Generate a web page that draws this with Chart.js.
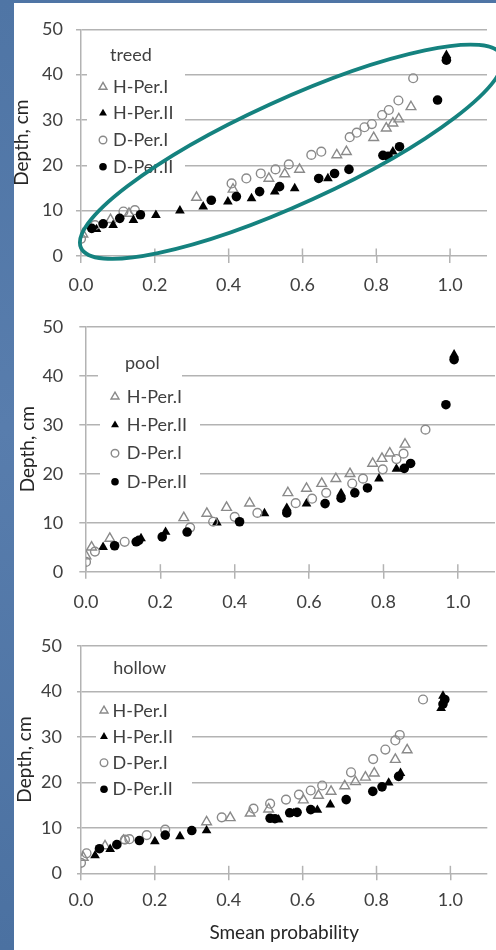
<!DOCTYPE html>
<html>
<head>
<meta charset="utf-8">
<title>Depth vs Smean probability</title>
<script src="https://cdn.jsdelivr.net/npm/chart.js@4.4.1/dist/chart.umd.min.js"></script>
<style>
  html, body { margin: 0; padding: 0; }
  body {
    width: 496px; height: 950px; overflow: hidden; position: relative;
    background: linear-gradient(180deg, #4f75a5 0%, #587dad 45%, #4b71a1 100%);
  }
  .sheet { position: absolute; left: 14px; top: 3px; right: 0; bottom: 0; background: #fff; }
  canvas { position: absolute; left: 0; }
</style>
</head>
<body>
<div class="sheet"></div>
<canvas id="chTreed" width="496" height="300" style="top:0"></canvas>
<canvas id="chPool" width="502" height="320" style="top:300px"></canvas>
<canvas id="chHollow" width="496" height="330" style="top:620px"></canvas>

<script>
/* =========================================================
   Depth vs Smean probability — treed / pool / hollow
   ========================================================= */

/* --- DATA: [Smean probability, depth cm] --- */

const seriesNames = ['H-Per.I', 'H-Per.II', 'D-Per.I', 'D-Per.II'];
const xTickValues = [0, 0.2, 0.4, 0.6, 0.8, 1.0];
const yTickValues = [0, 10, 20, 30, 40, 50];

const treedHPerI = [[0.005,4.8],[0.08,8.0],[0.13,9.4],[0.313,12.9],[0.412,14.7],[0.509,17.1],[0.552,18.1],[0.592,19.1],[0.693,22.3],[0.719,23.0],[0.793,26.1],[0.827,28.2],[0.845,29.3],[0.861,30.2],[0.894,32.9]];
const treedHPerII = [[0.042,5.9],[0.087,6.8],[0.142,7.9],[0.203,9.0],[0.268,10.0],[0.331,10.9],[0.398,12.0],[0.462,12.7],[0.525,14.2],[0.579,14.9],[0.669,17.1],[0.845,23.0],[0.99,44.3]];
const treedDPerI = [[0.0,3.8],[0.038,6.8],[0.115,9.8],[0.146,10.1],[0.408,16.0],[0.448,17.1],[0.487,18.2],[0.527,19.1],[0.563,20.2],[0.624,22.3],[0.651,23.0],[0.728,26.2],[0.747,27.2],[0.768,28.4],[0.788,29.1],[0.816,31.1],[0.834,32.2],[0.86,34.3],[0.90,39.2]];
const treedDPerII = [[0.029,6.1],[0.06,7.1],[0.105,8.3],[0.161,9.1],[0.353,12.3],[0.421,13.1],[0.484,14.2],[0.538,15.3],[0.644,17.1],[0.687,18.2],[0.726,19.1],[0.818,22.2],[0.832,22.0],[0.863,24.1],[0.966,34.4],[0.99,43.2]];

const poolHPerI = [[0.0,3.2],[0.015,5.0],[0.064,6.8],[0.263,11.0],[0.325,11.9],[0.378,13.1],[0.44,14.0],[0.543,16.1],[0.593,17.0],[0.634,18.0],[0.672,19.0],[0.71,20.0],[0.771,22.1],[0.796,23.1],[0.817,24.2],[0.858,26.0]];
const poolHPerII = [[0.046,5.0],[0.148,6.8],[0.214,8.1],[0.352,10.0],[0.48,11.9],[0.54,13.0],[0.593,13.9],[0.686,16.0],[0.788,19.0],[0.835,21.0],[0.99,44.3]];
const poolDPerI = [[0.0,2.0],[0.024,4.1],[0.104,6.1],[0.28,9.0],[0.342,10.2],[0.4,11.2],[0.461,12.0],[0.564,14.0],[0.608,14.9],[0.646,16.1],[0.716,18.0],[0.745,19.0],[0.798,20.9],[0.835,23.0],[0.854,24.1],[0.913,29.0]];
const poolDPerII = [[0.077,5.3],[0.135,6.1],[0.142,6.4],[0.205,7.1],[0.272,8.1],[0.413,10.2],[0.54,12.0],[0.643,13.9],[0.686,15.0],[0.723,16.1],[0.757,17.1],[0.856,21.1],[0.873,22.1],[0.968,34.1],[0.99,43.3]];

const hollowHPerI = [[0.006,3.5],[0.065,6.0],[0.115,7.2],[0.34,11.3],[0.404,12.2],[0.458,13.2],[0.508,14.1],[0.602,16.1],[0.643,17.1],[0.677,18.0],[0.714,19.2],[0.743,20.1],[0.77,21.1],[0.794,22.0],[0.851,25.0],[0.883,27.1]];
const hollowHPerII = [[0.038,3.9],[0.079,5.3],[0.2,7.0],[0.268,8.1],[0.34,9.4],[0.535,11.8],[0.575,13.2],[0.64,13.9],[0.675,15.1],[0.833,19.9],[0.865,22.0],[0.975,36.3],[0.98,39.0]];
const hollowDPerI = [[0.0,2.3],[0.015,4.4],[0.119,7.4],[0.131,7.5],[0.178,8.4],[0.228,9.6],[0.381,12.3],[0.467,14.2],[0.512,15.3],[0.555,16.2],[0.59,17.3],[0.622,18.2],[0.653,19.3],[0.731,22.2],[0.791,25.1],[0.824,27.2],[0.851,29.2],[0.863,30.4],[0.926,38.2]];
const hollowDPerII = [[0.05,5.4],[0.097,6.3],[0.158,7.2],[0.228,8.4],[0.3,9.4],[0.512,12.1],[0.525,12.0],[0.565,13.3],[0.585,13.4],[0.622,14.0],[0.718,16.2],[0.79,18.0],[0.815,19.0],[0.86,21.3],[0.98,37.2],[0.985,38.2]];

/* ring around the treed cloud: ends in data units, half width in px */
const ringEnds = [[0.0, 1.8], [1.14, 44.2]];
const ringHalfWidth = 52;

(function () {
  'use strict';

  const GRID = '#b3b3b3';
  const TEXT = '#404040';
  const GREY = '#8a8a8a';
  const FONT = 'Lato, "Open Sans", sans-serif';

  Chart.defaults.font.family = FONT;
  Chart.defaults.color = TEXT;

  /* marker styles per series, in legend order */
  const markStyles = [
    { shape: 'triangle', fill: false, color: GREY, r: 5.6, order: 4 },
    { shape: 'triangle', fill: true, color: '#000', r: 5.6, order: 3 },
    { shape: 'circle', fill: false, color: GREY, r: 4.4, order: 2 },
    { shape: 'circle', fill: true, color: '#000', r: 4.8, order: 1 },
  ];

  function drawMark(ctx, st, x, y, r) {
    ctx.beginPath();
    if (st.shape === 'circle') {
      ctx.arc(x, y, r, 0, Math.PI * 2);
    } else {
      for (let k = 0; k < 3; k++) {
        const a = k * 2 * Math.PI / 3;
        const px = x + Math.sin(a) * r, py = y - Math.cos(a) * r;
        k ? ctx.lineTo(px, py) : ctx.moveTo(px, py);
      }
      ctx.closePath();
    }
    if (st.fill) { ctx.fillStyle = st.color; ctx.fill(); }
    else { ctx.lineWidth = 1.4; ctx.strokeStyle = st.color; ctx.stroke(); }
  }

  /* --- plugin: legend box, inner x ticks, ring --- */

  const panelDecor = {
    id: 'panelDecor',
    beforeDatasetsDraw(chart, args, o) {
      const ctx = chart.ctx;
      const a = chart.chartArea;
      const xs = chart.scales.x;
      ctx.save();

      // inner half of the crossing x ticks
      ctx.strokeStyle = GRID;
      ctx.lineWidth = 1.5;
      xs.ticks.forEach(t => {
        const px = xs.getPixelForValue(t.value);
        ctx.beginPath();
        ctx.moveTo(px, a.bottom - 7.5);
        ctx.lineTo(px, a.bottom);
        ctx.stroke();
      });

      // white boxes under title and legend
      ctx.fillStyle = '#fff';
      o.boxes.forEach(b => ctx.fillRect(b[0], b[1], b[2], b[3]));

      ctx.font = '18px ' + FONT;
      ctx.fillStyle = TEXT;
      ctx.textBaseline = 'middle';
      ctx.textAlign = 'left';
      ctx.fillText(o.title, o.titleX, o.titleY);

      chart.data.datasets.forEach((ds, i) => {
        const y = o.rows[i];
        drawMark(ctx, markStyles[i], o.markX, y, markStyles[i].shape === 'circle' ? 3.8 : 4.6);
        ctx.fillStyle = TEXT;
        ctx.fillText(ds.label, o.textX, y);
      });
      ctx.restore();
    },
    afterDatasetsDraw(chart, args, o) {
      if (!o.ring) return;
      const ctx = chart.ctx;
      const xs = chart.scales.x, ys = chart.scales.y;
      const x1 = xs.getPixelForValue(ringEnds[0][0]), y1 = ys.getPixelForValue(ringEnds[0][1]);
      const x2 = xs.getPixelForValue(ringEnds[1][0]), y2 = ys.getPixelForValue(ringEnds[1][1]);
      ctx.save();
      ctx.beginPath();
      ctx.ellipse((x1 + x2) / 2, (y1 + y2) / 2, Math.hypot(x2 - x1, y2 - y1) / 2, ringHalfWidth,
        Math.atan2(y2 - y1, x2 - x1), 0, Math.PI * 2);
      ctx.strokeStyle = '#15827f';
      ctx.lineWidth = 3.8;
      ctx.stroke();
      ctx.restore();
    },
  };

  /* --- panels --- */

  const panels = [
    {
      id: 'chTreed', sets: [treedHPerI, treedHPerII, treedDPerI, treedDPerII],
      pad: { top: 29.3, right: 9 }, yWidth: 81, xHeight: 44,
      yTickLen: 5, yTickPad: 13, xTickPad: 11.2, yTitlePad: 10.6, xTitle: false,
      decor: {
        title: 'treed', titleX: 110, titleY: 55, markX: 103, textX: 113,
        rows: [87, 113.3, 140, 166.7], boxes: [[87, 45, 98, 135]], ring: true,
      },
    },
    {
      id: 'chPool', sets: [poolHPerI, poolHPerII, poolDPerI, poolDPerII],
      pad: { top: 26, right: 1.7 }, yWidth: 86, xHeight: 48.3,
      yTickLen: 6.7, yTickPad: 16, xTickPad: 12.2, yTitlePad: 16.6, xTitle: false,
      decor: {
        title: 'pool', titleX: 125, titleY: 63, markX: 115, textX: 126.7,
        rows: [96.7, 125, 153.3, 181.7], boxes: [[98, 45, 84, 35], [100, 82, 100, 113]], ring: false,
      },
    },
    {
      id: 'chHollow', sets: [hollowHPerI, hollowHPerII, hollowDPerI, hollowDPerII],
      pad: { top: 16.7, right: 8.7 }, yWidth: 81, xHeight: 76.7,
      yTickLen: 4, yTickPad: 15, xTickPad: 8.9, yTitlePad: 13.6, xTitle: true,
      decor: {
        title: 'hollow', titleX: 113.3, titleY: 48.3, markX: 104, textX: 112.5,
        rows: [90.7, 116.7, 142.7, 169.3], boxes: [[96, 30, 89, 30], [96, 75, 96, 105]], ring: false,
      },
    },
  ];

  panels.forEach(p => {
    const datasets = p.sets.map((pts, i) => {
      const st = markStyles[i];
      return {
        label: seriesNames[i],
        data: pts.map(v => ({ x: v[0], y: v[1] })),
        order: st.order,
        pointStyle: st.shape,
        pointRadius: st.r,
        pointBackgroundColor: st.fill ? st.color : 'rgba(0,0,0,0)',
        pointBorderColor: st.color,
        pointBorderWidth: st.fill ? 0 : 1.4,
        showLine: false,
      };
    });

    new Chart(document.getElementById(p.id), {
      type: 'scatter',
      data: { datasets },
      plugins: [panelDecor],
      options: {
        responsive: false,
        animation: false,
        layout: { padding: { top: p.pad.top, right: p.pad.right, left: 0, bottom: 0 } },
        plugins: {
          legend: { display: false },
          tooltip: { enabled: false },
          panelDecor: p.decor,
        },
        scales: {
          x: {
            type: 'linear', min: 0, max: 1.1,
            afterBuildTicks: s => { s.ticks = xTickValues.map(v => ({ value: v })); },
            afterFit: s => { s.height = p.xHeight; },
            grid: { drawOnChartArea: false, color: GRID, lineWidth: 1.5, tickLength: 7 },
            border: { display: false },
            ticks: { padding: p.xTickPad, color: TEXT, font: { size: 18 }, callback: v => v.toFixed(1) },
            title: {
              display: p.xTitle, text: 'Smean probability', color: '#262626',
              font: { size: 19 }, padding: { top: 0, bottom: 5.3 },
            },
          },
          y: {
            type: 'linear', min: 0, max: 50,
            afterBuildTicks: s => { s.ticks = yTickValues.map(v => ({ value: v })); },
            afterFit: s => { s.width = p.yWidth; },
            grid: { color: GRID, lineWidth: 1.5, tickLength: p.yTickLen },
            border: { display: true, color: GRID, width: 1.5 },
            ticks: { padding: p.yTickPad, color: TEXT, font: { size: 18 } },
            title: {
              display: true, text: 'Depth, cm', color: '#262626',
              font: { size: 19 }, padding: { top: p.yTitlePad, bottom: 0 },
            },
          },
        },
      },
    });
  });
})();
</script>
</body>
</html>
